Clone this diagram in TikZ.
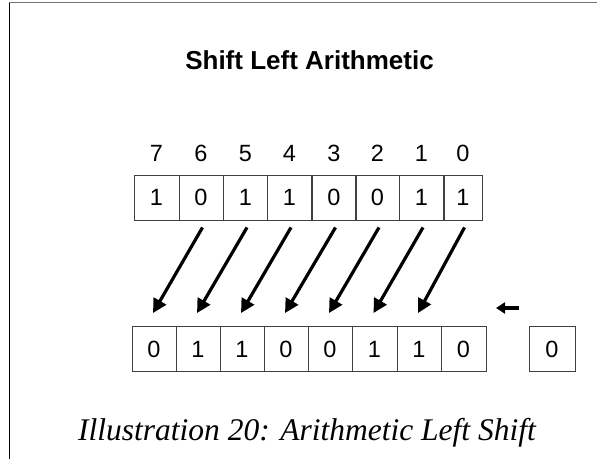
\documentclass[tikz,border=0pt]{standalone}
\usepackage{fontspec}
\setmainfont{Liberation Sans}
\newfontfamily\capfont{Liberation Serif}
\usetikzlibrary{arrows.meta}
\begin{document}
\begin{tikzpicture}[x=1pt,y=-1pt,
  cell/.style={draw=black!75,line width=0.9pt,minimum height=45pt,inner sep=0pt,font=\fontsize{23.5}{28}\selectfont},
  idx/.style={inner sep=0pt,font=\fontsize{23.5}{28}\selectfont},
  bigarrow/.style={line width=3.2pt,-{Triangle[length=14pt,width=14pt]}},
  smallarrow/.style={line width=3.2pt,-{Triangle[length=9pt,width=11pt]}}]
\useasboundingbox (0,0) rectangle (597,459);
% frame
\draw[black!55,line width=1pt] (597,2.5) -- (9,2.5);
\draw[black,line width=1pt] (9,2.5) -- (9,459);
% title
\node[font=\bfseries\fontsize{26}{30}\selectfont,anchor=base] (title) at (309.5,69) {Shift Left Arithmetic};
% index labels
\foreach \n/\x in {7/156.5,6/201,5/245.5,4/289.5,3/334,2/377.5,1/421.5,0/463}
  \node[idx] (i\n) at (\x,153.5) {\n};
% top row
\node[cell,minimum width=45pt] (t7) at (156.5,197.5) {1};
\node[cell,minimum width=44pt] (t6) at (201,197.5) {0};
\node[cell,minimum width=44pt] (t5) at (245.5,197.5) {1};
\node[cell,minimum width=44pt] (t4) at (289.5,197.5) {1};
\node[cell,minimum width=44pt] (t3) at (334,197.5) {0};
\node[cell,minimum width=44pt] (t2) at (377.5,197.5) {0};
\node[cell,minimum width=44pt] (t1) at (421.5,197.5) {1};
\node[cell,minimum width=38pt] (t0) at (463,197.5) {1};
% bottom row
\node[cell,minimum width=44pt] (b7) at (154,349) {0};
\node[cell,minimum width=44pt] (b6) at (198,349) {1};
\node[cell,minimum width=44pt] (b5) at (242,349) {1};
\node[cell,minimum width=44pt] (b4) at (286,349) {0};
\node[cell,minimum width=44pt] (b3) at (330,349) {0};
\node[cell,minimum width=45pt] (b2) at (374.5,349) {1};
\node[cell,minimum width=44pt] (b1) at (419,349) {1};
\node[cell,minimum width=45pt] (b0) at (463.5,349) {0};
\node[cell,minimum width=46pt] (zero) at (552,349) {0};
% shift arrows
\foreach \a/\b in {6/7,5/6,4/5,3/4,2/3,1/2,0/1}
  \draw[bigarrow] ([xshift=1.5pt,yshift=-7pt]t\a.south) -- ([xshift=-1pt,yshift=13pt]b\b.north);
% small arrow
\coordinate (s0) at (519,308);
\coordinate (s1) at (496,308);
\draw[smallarrow] (s0) -- (s1);
% caption
\node[font=\capfont\itshape\fontsize{31.5}{36}\selectfont,anchor=base] (cap) at (307,440.5) {Illustration 20: Arithmetic Left Shift};
\end{tikzpicture}
\end{document}
